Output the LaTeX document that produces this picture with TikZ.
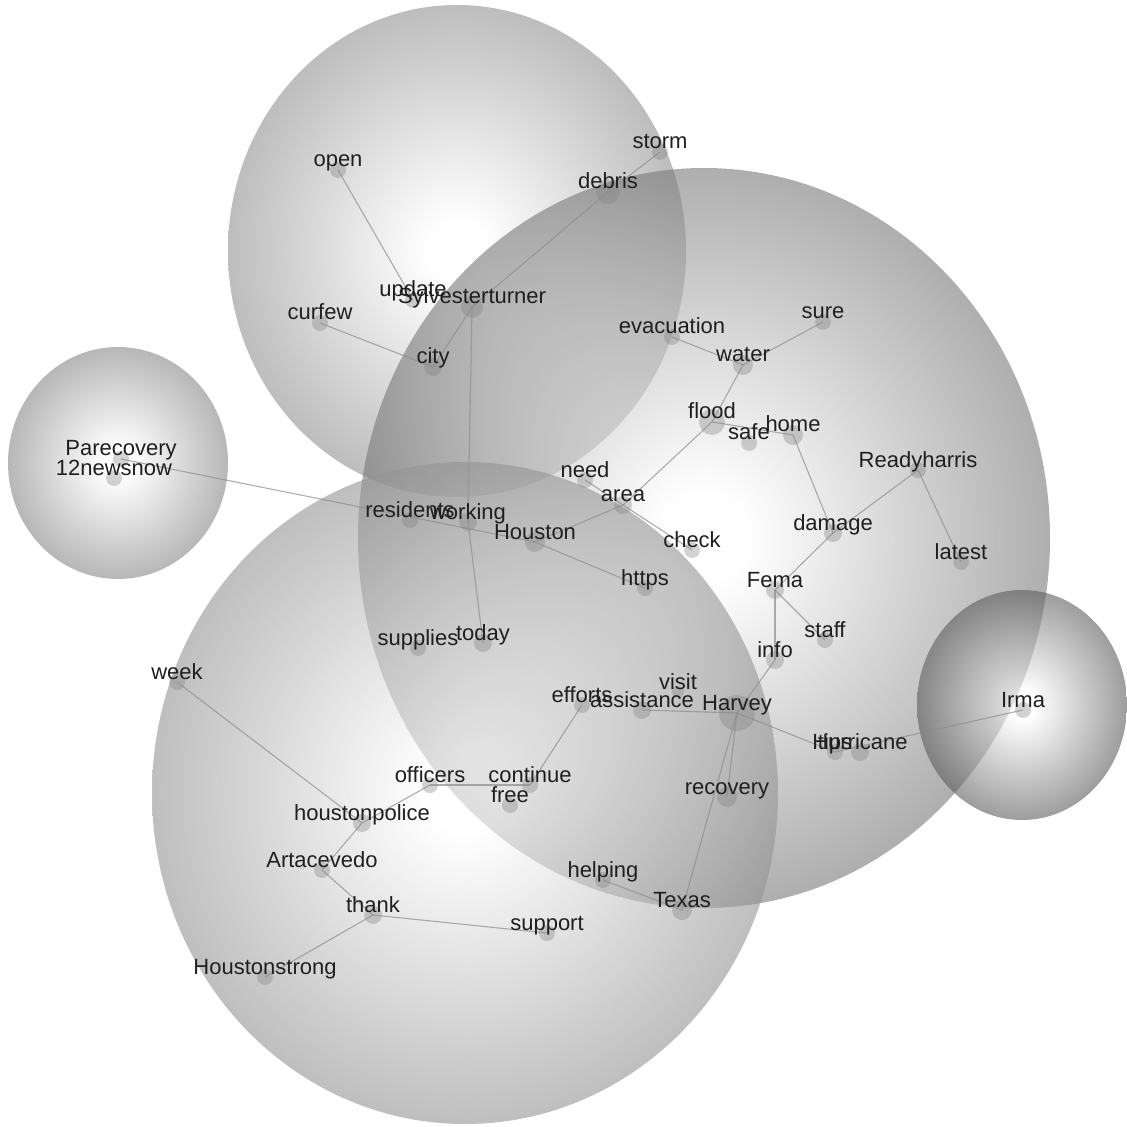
\documentclass[tikz,border=0pt]{standalone}
\usepackage{fontspec}
\setmainfont{Liberation Sans}
\colorlet{bubbleedge}{black!50}
\pgfdeclareradialshading[bubbleedge]{bubbleglow}{\pgfpoint{0bp}{0bp}}{color(0bp)=(white); color(3bp)=(white); color(13bp)=(bubbleedge!45!white); color(25bp)=(bubbleedge); color(50bp)=(bubbleedge)}
\begin{document}
\begin{tikzpicture}[x=0.5pt, y=-0.5pt,
   bubble/.style={fill opacity=0.6, /utils/exec={\colorlet{bubbleedge}{#1}}, shading=bubbleglow},
   worddot/.style={circle, fill=black!50, fill opacity=0.35, inner sep=0pt, minimum size=#1},
   worddot/.default=8pt,
   wordlink/.style={draw=black!45, draw opacity=0.7, line width=0.55pt},
   wordtag/.style={anchor=base, inner sep=0pt, text=black!88, font=\fontsize{11}{13}\selectfont}]

\useasboundingbox (0,0) rectangle (1127,1127);

% topic bubbles
\shade[bubble=black!43] (457,251) ellipse [x radius=229, y radius=246];
\shade[bubble=black!53] (704,538) ellipse [x radius=346, y radius=370];
\shade[bubble=black!42] (465,793) ellipse [x radius=313, y radius=331];
\shade[bubble=black!47] (118,463) ellipse [x radius=110, y radius=116];
\shade[bubble=black!64] (1022,705) ellipse [x radius=105, y radius=115];

% words
\foreach \n/\x/\y/\s in {
    storm/660/152/16, debris/608/192/24, open/338/170/16, update/413/300/16,
    Sylvesterturner/472/307/22, curfew/320/323/16, city/433/367/18,
    evacuation/672/337/16, sure/823/322/16, water/743/365/20, flood/712/422/26,
    safe/749/443/16, home/793/435/20, need/585/480/16, area/623/505/18,
    check/692/550/16, https/645/588/16, Readyharris/918/470/16, damage/833/533/18,
    latest/961/562/16, Fema/775/590/18, staff/825/640/16, info/775/660/18,
    visit/678/692/12, efforts/582/705/16, assistance/642/710/18, Harvey/737/713/36,
    tips/835/752/16, Hurricane/860/752/18, recovery/727/797/20, helping/603/880/16,
    Texas/682/910/20, week/177/682/16, officers/430/785/16, continue/530/785/16,
    free/510/805/16, houstonpolice/362/823/18, Artacevedo/322/870/16,
    thank/373/915/18, support/547/933/16, Houstonstrong/265/977/16,
    residents/410/520/16, working/468/522/18, Houston/535/542/20,
    supplies/418/648/16, today/483/643/18, Parecovery/121/459/16,
    12newsnow/114/478/16, Irma/1023/710/16}
  \node[worddot=\s*0.5pt] (\n) at (\x,\y) {};

\foreach \a/\b in {storm/debris, debris/Sylvesterturner, open/update,
    Sylvesterturner/city, curfew/city, Sylvesterturner/working, working/today,
    Parecovery/Houston, Houston/area, Houston/https, area/flood, area/need,
    area/check, flood/water, water/evacuation, water/sure, flood/home,
    home/damage, damage/Readyharris, Readyharris/latest, damage/Fema,
    Fema/staff, Fema/info, info/Harvey, Harvey/assistance, Harvey/tips,
    tips/Irma, Harvey/recovery, Harvey/Texas, helping/Texas, efforts/continue,
    officers/continue, officers/houstonpolice, week/houstonpolice,
    houstonpolice/Artacevedo, Artacevedo/thank, thank/support,
    thank/Houstonstrong}
  \draw[wordlink] (\a.center) -- (\b.center);

\foreach \n in {storm, debris, open, update, Sylvesterturner, curfew, city,
    evacuation, sure, water, flood, safe, home, need, area, check, https,
    Readyharris, damage, latest, Fema, staff, info, visit, efforts, assistance,
    Harvey, tips, Hurricane, recovery, helping, Texas, week, officers, continue,
    free, houstonpolice, Artacevedo, thank, support, Houstonstrong, residents,
    working, Houston, supplies, today, Parecovery, 12newsnow, Irma}
  \node[wordtag] at ([yshift=1.5pt]\n.center) {\n};

\end{tikzpicture}
\end{document}
